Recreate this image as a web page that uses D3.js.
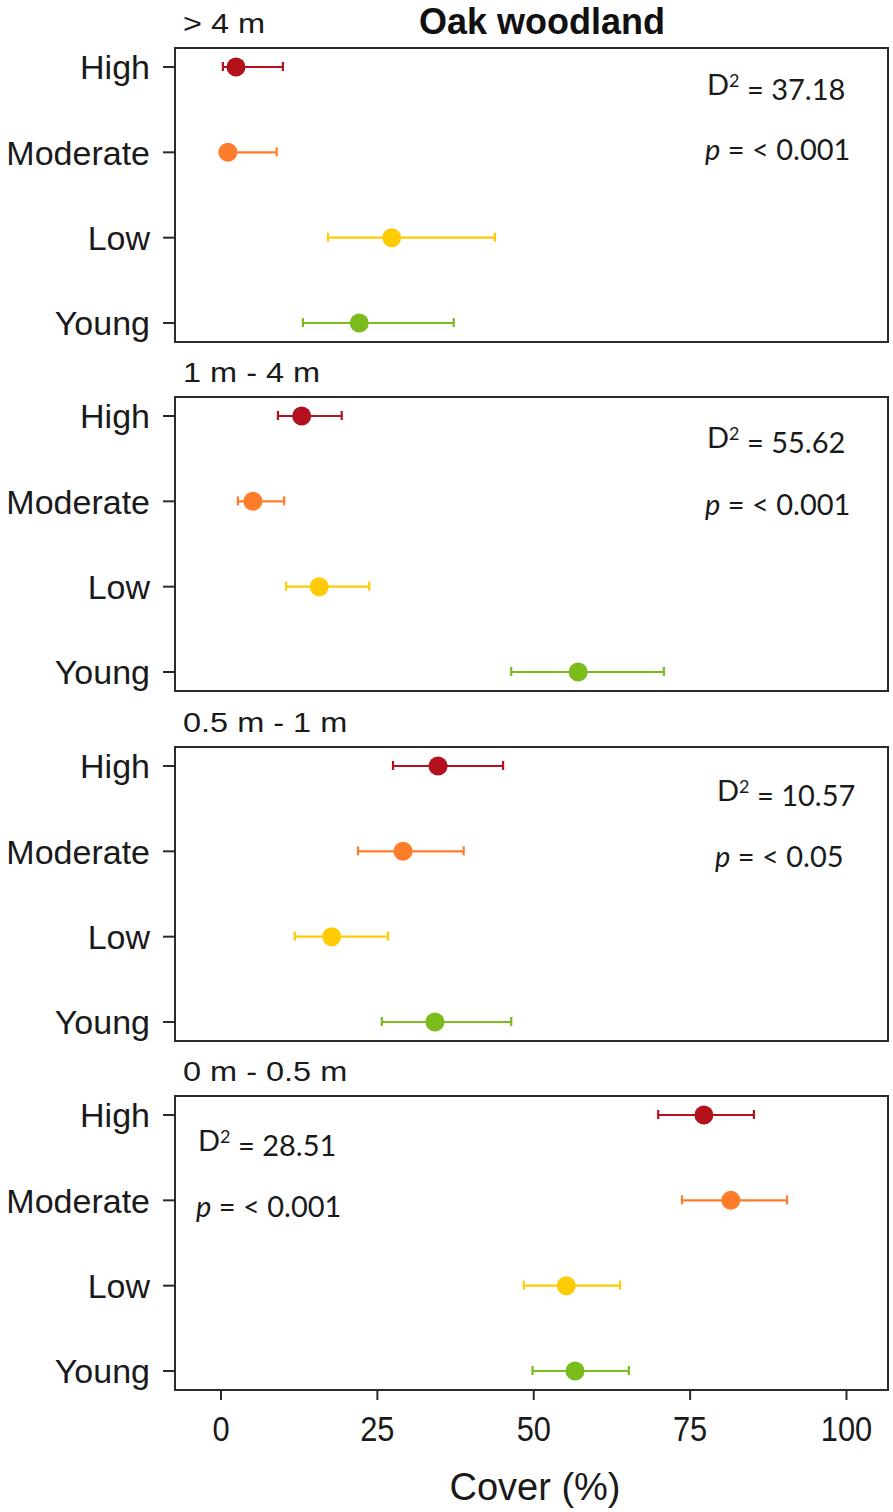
<!DOCTYPE html>
<html>
<head>
<meta charset="utf-8">
<script src="https://cdn.jsdelivr.net/npm/d3@7"></script>
<style>
  html, body { margin: 0; padding: 0; background: #fff; }
  svg { display: block; }
</style>
</head>
<body>
<script>
// ---------- data ----------
const chartTitle = "Oak woodland";
const categories = ["High", "Moderate", "Low", "Young"];
const strata = ["> 4 m", "1 m - 4 m", "0.5 m - 1 m", "0 m - 0.5 m"];
const meanCover = [
  [2.4, 1.1, 27.3, 22.1],
  [12.9, 5.1, 15.7, 57.1],
  [34.7, 29.1, 17.7, 34.2],
  [77.2, 81.5, 55.2, 56.6]
];
const lowerCover = [
  [0.3, 0.0, 17.1, 13.1],
  [9.1, 2.7, 10.4, 46.4],
  [27.5, 21.9, 11.8, 25.7],
  [69.9, 73.7, 48.4, 49.8]
];
const upperCover = [
  [9.9, 8.9, 43.8, 37.2],
  [19.3, 10.1, 23.7, 70.8],
  [45.1, 38.8, 26.7, 46.4],
  [85.2, 90.5, 63.8, 65.2]
];
const d2Values = ["37.18", "55.62", "10.57", "28.51"];
const pValues = ["< 0.001", "< 0.001", "< 0.05", "< 0.001"];
const xTicks = [0, 25, 50, 75, 100];
const xTitle = "Cover (%)";
const colors = ["#b3111b", "#fd7d2a", "#ffcb05", "#79bc1b"];

// ---------- layout ----------
const W = 893, H = 1512;
const frameL = 175, frameR = 888;
const panelTops = [48, 397, 747, 1096];
const panelH = 294;
const annoX = [707, 707, 717, 198];
const annoDy = [[47, 112], [51, 118], [54, 120], [55, 121]];

const svg = d3.select("body").append("svg").attr("width", W).attr("height", H);

const x = d3.scaleLinear().domain([0, 100]).range([221, 846.5]);

// title
svg.append("text")
  .attr("x", 542).attr("y", 34)
  .attr("text-anchor", "middle")
  .style("font-family", "Liberation Sans, Arial, sans-serif")
  .style("font-weight", "bold").style("font-size", "36px").style("fill", "#111")
  .text(chartTitle);

strata.forEach((s, i) => {
  const top = panelTops[i];
  const g = svg.append("g");
  const y = d3.scalePoint().domain(categories).range([top + 19, top + 275]);

  // panel title (slightly wide lettering)
  g.append("text")
    .attr("transform", `translate(183,${top - 15}) scale(1.16,1)`)
    .style("font-family", "Liberation Sans, Arial, sans-serif")
    .style("font-size", "28px").style("fill", "#1a1a1a")
    .text(s);

  // frame
  g.append("rect")
    .attr("x", frameL).attr("y", top)
    .attr("width", frameR - frameL).attr("height", panelH)
    .attr("fill", "none").attr("stroke", "#2b2b2b").attr("stroke-width", 2);

  // y axis ticks + labels
  categories.forEach(c => {
    g.append("line")
      .attr("x1", frameL - 12).attr("x2", frameL)
      .attr("y1", y(c)).attr("y2", y(c))
      .attr("stroke", "#2b2b2b").attr("stroke-width", 2);
    g.append("text")
      .attr("x", 150).attr("y", y(c)).attr("dy", "0.36em")
      .attr("text-anchor", "end")
      .style("font-family", "Liberation Sans, Arial, sans-serif")
      .style("font-size", "34px").style("fill", "#1a1a1a")
      .text(c);
  });

  // error bars and points
  categories.forEach((c, j) => {
    const yy = y(c), col = colors[j];
    const lo = x(lowerCover[i][j]), hi = x(upperCover[i][j]);
    g.append("line").attr("x1", lo).attr("x2", hi).attr("y1", yy).attr("y2", yy)
      .attr("stroke", col).attr("stroke-width", 2.2);
    [lo, hi].forEach(xx => {
      g.append("line").attr("x1", xx).attr("x2", xx).attr("y1", yy - 5).attr("y2", yy + 4)
        .attr("stroke", col).attr("stroke-width", 2.2);
    });
    g.append("circle").attr("cx", x(meanCover[i][j])).attr("cy", yy).attr("r", 9.5)
      .attr("fill", col);
  });

  // annotations
  const ax = annoX[i];
  const t1 = g.append("text")
    .attr("x", ax).attr("y", top + annoDy[i][0])
    .style("font-family", "Lato, Carlito, Calibri, sans-serif")
    .style("font-size", "29px").style("fill", "#1a1a1a");
  t1.append("tspan").text("D");
  t1.append("tspan").attr("dy", "-0.45em").style("font-size", "18px").text("2");
  t1.append("tspan").attr("dy", "0.45em").text(" = " + d2Values[i]);

  const t2 = g.append("text")
    .attr("x", ax - 2).attr("y", top + annoDy[i][1])
    .style("font-family", "Lato, Carlito, Calibri, sans-serif")
    .style("font-size", "29px").style("fill", "#1a1a1a");
  t2.append("tspan").style("font-style", "italic").text("p");
  t2.append("tspan").text(" = " + pValues[i]);

  // x axis only on last panel
  if (i === strata.length - 1) {
    const bottom = top + panelH;
    xTicks.forEach(t => {
      g.append("line").attr("x1", x(t)).attr("x2", x(t))
        .attr("y1", bottom).attr("y2", bottom + 10)
        .attr("stroke", "#2b2b2b").attr("stroke-width", 2);
      g.append("text")
        .attr("transform", `translate(${x(t)},${bottom + 51}) scale(0.88,1)`)
        .attr("text-anchor", "middle")
        .style("font-family", "Liberation Sans, Arial, sans-serif")
        .style("font-size", "35px").style("fill", "#1a1a1a")
        .text(t);
    });
    g.append("text")
      .attr("x", 535).attr("y", 1500)
      .attr("text-anchor", "middle")
      .style("font-family", "Liberation Sans, Arial, sans-serif")
      .style("font-size", "38px").style("fill", "#1a1a1a")
      .text(xTitle);
  }
});
</script>
</body>
</html>
